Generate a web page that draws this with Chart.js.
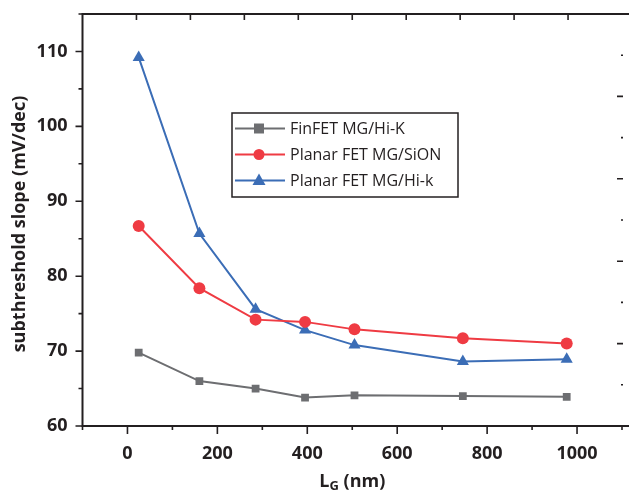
<!DOCTYPE html>
<html>
<head>
<meta charset="utf-8">
<script src="https://cdn.jsdelivr.net/npm/chart.js@4"></script>
<style>
  html, body { margin: 0; padding: 0; background: #fff; }
  #wrap { width: 629px; height: 491px; }
</style>
</head>
<body>
<div id="wrap"><canvas id="myChart"></canvas></div>
<script>
"use strict";

// gate length (nm)
const gateLengths = [25, 160, 285, 395, 505, 746, 977];

// subthreshold slope (mV/dec) per device
const finfetHiK = [69.8, 66.0, 65.0, 63.8, 64.1, 64.0, 63.9];
const planarSiON = [86.7, 78.4, 74.2, 73.9, 72.9, 71.7, 71.0];
const planarHik = [109.2, 85.7, 75.6, 72.8, 70.8, 68.6, 68.9];

const seriesNames = ["FinFET MG/Hi-K", "Planar FET MG/SiON", "Planar FET MG/Hi-k"];

// tick labels
const xTicks = [0, 200, 400, 600, 800, 1000];
const yTicks = [60, 70, 80, 90, 100, 110];

const ink = "#231f20";
const tickFont = { family: "'Open Sans', sans-serif", size: 18, weight: "bold" };

// frame, ticks, axis titles and legend drawn by hand
const framePlugin = {
  id: "frame",
  afterDraw(chart) {
    const ctx = chart.ctx;
    const a = chart.chartArea;
    const x = chart.scales.x;
    const y = chart.scales.y;
    const xt = chart.scales.xTop;
    const yr = chart.scales.yRight;

    ctx.save();
    ctx.strokeStyle = ink;
    ctx.lineWidth = 2;
    ctx.beginPath();
    ctx.moveTo(chart.width, a.top);
    ctx.lineTo(a.left, a.top);
    ctx.lineTo(a.left, a.bottom);
    ctx.lineTo(chart.width, a.bottom);
    ctx.stroke();

    ctx.lineWidth = 1.6;
    ctx.beginPath();
    // bottom ticks, pointing out
    for (let v = -100; v <= 1100; v += 100) {
      const px = x.getPixelForValue(v);
      const len = v % 200 === 0 ? 8 : 4;
      ctx.moveTo(px, a.bottom);
      ctx.lineTo(px, a.bottom + len);
    }
    // left ticks, pointing out
    for (let v = 60; v <= 115; v += 5) {
      const py = y.getPixelForValue(v);
      const len = v % 10 === 0 ? 7 : 4;
      ctx.moveTo(a.left, py);
      ctx.lineTo(a.left - len, py);
    }
    // top ticks, pointing in
    for (let v = 1; v <= 9; v++) {
      const px = xt.getPixelForValue(v);
      ctx.moveTo(px, a.top);
      ctx.lineTo(px, a.top + 6);
    }
    // right ticks, pointing in
    for (let v = 1; v <= 9; v++) {
      const py = yr.getPixelForValue(v);
      const len = v % 2 === 0 ? 6 : 2;
      ctx.moveTo(a.right + 1, py);
      ctx.lineTo(a.right + 1 - len, py);
    }
    ctx.stroke();

    // axis titles
    ctx.fillStyle = ink;
    ctx.font = "bold 18px 'Open Sans', sans-serif";
    ctx.textAlign = "center";
    ctx.textBaseline = "middle";
    ctx.save();
    ctx.translate(20, 224);
    ctx.rotate(-Math.PI / 2);
    ctx.fillText("subthreshold slope (mV/dec)", 0, 0);
    ctx.restore();

    const cx = x.getPixelForValue(500);
    const base = 487;
    ctx.textBaseline = "alphabetic";
    ctx.textAlign = "left";
    ctx.font = "bold 18px 'Open Sans', sans-serif";
    const wL = ctx.measureText("L").width;
    ctx.font = "bold 13px 'Open Sans', sans-serif";
    const wG = ctx.measureText("G").width;
    ctx.font = "bold 18px 'Open Sans', sans-serif";
    const wRest = ctx.measureText(" (nm)").width;
    const sx = cx - (wL + wG + wRest) / 2;
    ctx.fillText("L", sx, base);
    ctx.font = "bold 13px 'Open Sans', sans-serif";
    ctx.fillText("G", sx + wL, base + 3);
    ctx.font = "bold 18px 'Open Sans', sans-serif";
    ctx.fillText(" (nm)", sx + wL + wG, base);

    // legend box
    const lx = 232, ly = 113, lw = 226, lh = 84;
    ctx.lineWidth = 1.5;
    ctx.strokeStyle = ink;
    ctx.strokeRect(lx, ly, lw, lh);
    ctx.font = "16px 'Open Sans', sans-serif";
    ctx.textBaseline = "middle";
    chart.data.datasets.forEach(function (ds, i) {
      const ry = ly + 15.5 + i * 26;
      ctx.strokeStyle = ds.borderColor;
      ctx.lineWidth = 2;
      ctx.beginPath();
      ctx.moveTo(lx + 3, ry);
      ctx.lineTo(lx + 53, ry);
      ctx.stroke();
      ctx.fillStyle = ds.borderColor;
      const mx = lx + 27;
      ctx.beginPath();
      if (ds.pointStyle === "rect") {
        ctx.rect(mx - 5, ry - 5, 10, 10);
      } else if (ds.pointStyle === "circle") {
        ctx.arc(mx, ry, 5.5, 0, Math.PI * 2);
      } else {
        ctx.moveTo(mx, ry - 7);
        ctx.lineTo(mx + 6.5, ry + 4.5);
        ctx.lineTo(mx - 6.5, ry + 4.5);
        ctx.closePath();
      }
      ctx.fill();
      ctx.fillStyle = ink;
      ctx.fillText(ds.label, lx + 58, ry + 1);
    });
    ctx.restore();
  }
};

const gray = "#6d6e71";
const red = "#ef3b43";
const blue = "#3b6db6";

function makeSet(label, values, color, style, radius) {
  return {
    label: label,
    data: gateLengths.map(function (g, i) { return { x: g, y: values[i] }; }),
    borderColor: color,
    backgroundColor: color,
    borderWidth: 2,
    pointStyle: style,
    pointRadius: radius,
    pointBorderWidth: 0,
    tension: 0
  };
}

// drop the label overhang padding so the plot box is where we want it
function noPad(scale) {
  scale.paddingTop = 0;
  scale.paddingBottom = 0;
  scale.paddingLeft = 0;
  scale.paddingRight = 0;
}

const ctx = document.getElementById("myChart");

new Chart(ctx, {
  type: "line",
  data: {
    datasets: [
      makeSet(seriesNames[0], finfetHiK, gray, "rect", 5.5),
      makeSet(seriesNames[1], planarSiON, red, "circle", 6),
      makeSet(seriesNames[2], planarHik, blue, "triangle", 7)
    ]
  },
  options: {
    responsive: true,
    maintainAspectRatio: false,
    animation: false,
    layout: { padding: { top: 14, right: 0, left: 0, bottom: 0 } },
    plugins: {
      legend: { display: false },
      tooltip: { enabled: false }
    },
    scales: {
      x: {
        type: "linear",
        position: "bottom",
        min: -100,
        max: 1100,
        afterBuildTicks: function (scale) {
          scale.ticks = xTicks.map(function (v) { return { value: v }; });
        },
        afterFit: function (scale) { scale.height = 65; noPad(scale); },
        grid: { display: false, drawTicks: false },
        border: { display: false },
        ticks: {
          color: ink, font: tickFont, padding: 17, maxRotation: 0,
          callback: function (v) { return String(v); }
        }
      },
      y: {
        type: "linear",
        position: "left",
        min: 60,
        max: 115,
        afterBuildTicks: function (scale) {
          scale.ticks = yTicks.map(function (v) { return { value: v }; });
        },
        afterFit: function (scale) { scale.width = 82.5; noPad(scale); },
        grid: { display: false, drawTicks: false },
        border: { display: false },
        ticks: { color: ink, font: tickFont, padding: 15 }
      },
      xTop: {
        type: "linear",
        position: "top",
        display: false,
        min: 0,
        max: 10
      },
      yRight: {
        type: "linear",
        position: "right",
        display: false,
        min: 0,
        max: 10
      }
    }
  },
  plugins: [framePlugin]
});
</script>
</body>
</html>
